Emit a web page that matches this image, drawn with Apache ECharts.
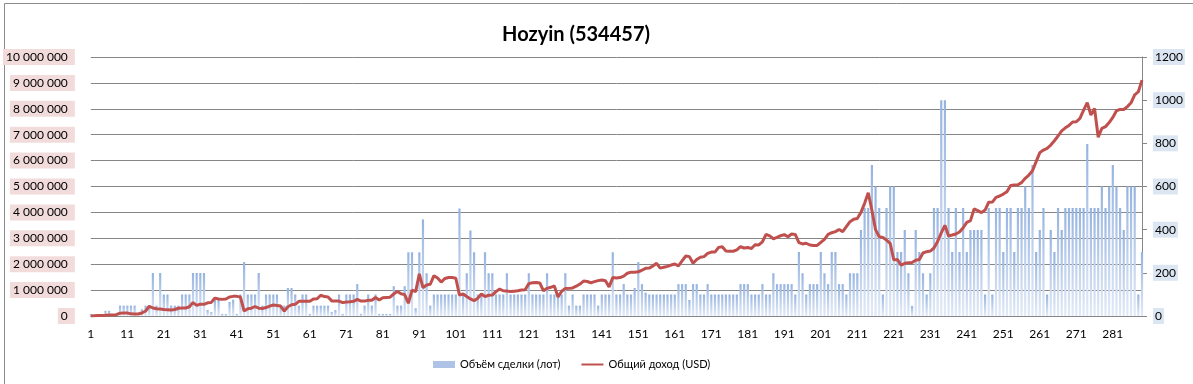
<!DOCTYPE html>
<html>
<head>
<meta charset="utf-8">
<script src="https://cdn.jsdelivr.net/npm/echarts@6/dist/echarts.min.js"></script>
<style>
html,body{margin:0;padding:0;background:#fff;}
#c{width:1193px;height:384px;}
</style>
</head>
<body>
<div id="c"></div>
<script>
const titleText = 'Hozyin (534457)';
const seriesNames = ['Объём сделки (лот)', 'Общий доход (USD)'];

const volume = [
  80000, 0, 0, 0, 200000, 200000, 0, 0, 400000, 400000,
  400000, 400000, 400000, 0, 260000, 400000, 400000, 1660000, 400000, 1660000,
  830000, 830000, 400000, 400000, 400000, 830000, 830000, 830000, 1660000, 1660000,
  1660000, 1660000, 230000, 150000, 620000, 620000, 80000, 80000, 540000, 630000,
  80000, 830000, 2080000, 830000, 830000, 830000, 1660000, 400000, 830000, 830000,
  830000, 830000, 400000, 400000, 1080000, 1080000, 830000, 400000, 830000, 830000,
  80000, 400000, 400000, 400000, 400000, 400000, 150000, 230000, 830000, 80000,
  830000, 830000, 830000, 1230000, 80000, 400000, 830000, 400000, 830000, 80000,
  80000, 80000, 80000, 1150000, 400000, 400000, 1150000, 2460000, 2460000, 300000,
  2460000, 3730000, 1650000, 400000, 830000, 830000, 830000, 830000, 830000, 830000,
  830000, 4150000, 830000, 1650000, 3300000, 2460000, 830000, 830000, 2460000, 1650000,
  1650000, 830000, 830000, 830000, 1650000, 830000, 830000, 830000, 830000, 830000,
  1650000, 830000, 830000, 830000, 830000, 1650000, 830000, 830000, 830000, 830000,
  1650000, 400000, 830000, 400000, 400000, 830000, 830000, 830000, 830000, 400000,
  830000, 830000, 830000, 2460000, 830000, 830000, 1230000, 830000, 830000, 1080000,
  2080000, 1230000, 900000, 830000, 830000, 830000, 830000, 830000, 830000, 830000,
  830000, 1230000, 1230000, 1230000, 620000, 1230000, 1230000, 830000, 830000, 1230000,
  830000, 830000, 830000, 830000, 830000, 830000, 830000, 830000, 1230000, 1230000,
  1230000, 830000, 830000, 830000, 1230000, 830000, 830000, 1650000, 1230000, 1230000,
  1230000, 1230000, 1230000, 830000, 2470000, 1650000, 830000, 1230000, 1230000, 1230000,
  2470000, 1650000, 1230000, 2470000, 2470000, 1230000, 1230000, 830000, 1650000, 1650000,
  1650000, 3320000, 4170000, 4170000, 5830000, 5000000, 4170000, 830000, 4170000, 5000000,
  5000000, 2470000, 2470000, 3320000, 1650000, 390000, 3320000, 2470000, 1650000, 830000,
  1650000, 4170000, 4170000, 8330000, 8330000, 4170000, 2470000, 4170000, 2470000, 4170000,
  2470000, 3320000, 3320000, 3320000, 3320000, 830000, 4170000, 830000, 4170000, 4170000,
  2470000, 4170000, 4170000, 2470000, 4170000, 4170000, 5000000, 4170000, 5830000, 2470000,
  3320000, 4170000, 830000, 3320000, 2470000, 4170000, 3320000, 4170000, 4170000, 4170000,
  4170000, 4170000, 4170000, 6640000, 4170000, 4170000, 4170000, 5000000, 4170000, 5000000,
  5830000, 5000000, 4170000, 3320000, 5000000, 5000000, 5000000, 830000, 2470000
];

const income = [
  0, 1, 2, 2, 3, 5, 5, 6, 13, 14,
  14, 10, 9, 9, 14, 23, 45, 37, 34, 32,
  30, 29, 28, 30, 36, 37, 37, 43, 62, 49,
  55, 54, 61, 63, 83, 79, 77, 79, 88, 91,
  91, 88, 23, 34, 36, 44, 36, 35, 39, 46,
  51, 49, 46, 23, 43, 52, 54, 68, 68, 68,
  68, 79, 80, 96, 90, 88, 70, 69, 69, 62,
  65, 66, 68, 77, 69, 69, 73, 73, 86, 74,
  85, 86, 87, 102, 114, 103, 99, 59, 120, 113,
  195, 131, 144, 147, 187, 176, 157, 174, 178, 178,
  175, 97, 102, 90, 79, 71, 82, 102, 90, 96,
  97, 113, 125, 117, 116, 113, 115, 117, 120, 122,
  150, 154, 155, 153, 117, 128, 133, 139, 88, 115,
  127, 128, 130, 138, 148, 162, 160, 154, 159, 164,
  167, 163, 135, 178, 176, 178, 185, 198, 203, 203,
  205, 212, 221, 222, 232, 244, 222, 226, 230, 236,
  241, 232, 255, 278, 275, 244, 262, 272, 275, 290,
  296, 296, 318, 321, 301, 300, 300, 306, 321, 315,
  317, 313, 330, 329, 344, 378, 371, 358, 364, 372,
  377, 367, 380, 378, 340, 334, 337, 329, 327, 327,
  341, 355, 378, 386, 391, 401, 391, 414, 437, 448,
  452, 480, 522, 571, 490, 400, 367, 364, 352, 337,
  260, 262, 235, 244, 247, 248, 258, 262, 292, 298,
  301, 315, 345, 385, 420, 371, 375, 380, 389, 409,
  434, 442, 496, 488, 479, 491, 527, 528, 550, 556,
  565, 576, 605, 607, 608, 618, 638, 653, 673, 715,
  757, 769, 777, 792, 812, 834, 858, 872, 883, 899,
  900, 916, 954, 988, 931, 962, 828, 869, 877, 896,
  920, 951, 957, 957, 970, 988, 1024, 1039, 1093
];

const categories = volume.map((_, i) => String(i + 1));

const leftTicks = { min: 0, max: 10000000, interval: 1000000 };
const rightTicks = { min: 0, max: 1200, interval: 200 };

const FONT = 'Lato, "Liberation Sans", sans-serif';
const chart = echarts.init(document.getElementById('c'), null, { renderer: 'canvas' });

function spaced(v) {
  return String(v).replace(/\B(?=(\d{3})+(?!\d))/g, ' ');
}

chart.setOption({
  animation: false,
  backgroundColor: '#ffffff',
  textStyle: { fontFamily: FONT },
  title: {
    text: titleText,
    left: 571, top: 20, textAlign: 'center',
    textStyle: { fontFamily: FONT, fontSize: 20, fontWeight: 'bold', color: '#000' }
  },
  graphic: [{
    type: 'rect', left: 2, top: 1, z: -1,
    shape: { x: 0, y: 0, width: 1189, height: 381 },
    style: { fill: 'none', stroke: '#8c8c8c', lineWidth: 1 }
  }],
  legend: {
    left: 428, top: 354,
    itemGap: 20,
    textStyle: { fontFamily: FONT, fontSize: 11, color: '#000' },
    data: [
      { name: seriesNames[0], icon: 'rect', itemStyle: { color: '#aec3e6' } },
      { name: seriesNames[1], itemStyle: { opacity: 0 } }
    ],
    itemWidth: 22, itemHeight: 7
  },
  grid: { left: 89, right: 51, top: 57, bottom: 68, containLabel: false },
  xAxis: {
    type: 'category',
    data: categories,
    boundaryGap: false,
    axisLine: { show: true, lineStyle: { color: '#868686', width: 1 } },
    axisTick: { show: false },
    axisLabel: { interval: 9, margin: 12, fontSize: 12, color: '#000', fontFamily: FONT },
    splitLine: { show: false }
  },
  yAxis: [{
    type: 'value',
    min: leftTicks.min, max: leftTicks.max, interval: leftTicks.interval,
    axisLine: { show: false },
    axisTick: { show: false },
    splitLine: { show: true, lineStyle: { color: '#868686', width: 1 } },
    axisLabel: {
      formatter: spaced, margin: 16, fontSize: 12, color: '#000', fontFamily: FONT,
      backgroundColor: '#f2dcdb', padding: [2, 7, 2, 3]
    }
  }, {
    type: 'value',
    min: rightTicks.min, max: rightTicks.max, interval: rightTicks.interval,
    position: 'right',
    axisLine: { show: true, lineStyle: { color: '#868686', width: 1 } },
    axisTick: { show: true, length: 5, inside: false, lineStyle: { color: '#868686' } },
    splitLine: { show: false },
    axisLabel: {
      formatter: function (v) { return String(v); },
      margin: 11, fontSize: 12, color: '#000', fontFamily: FONT,
      backgroundColor: '#dce6f2', padding: [2, 2, 2, 2]
    }
  }],
  series: [{
    name: seriesNames[0],
    type: 'bar',
    yAxisIndex: 0,
    data: volume,
    barWidth: 2.2,
    itemStyle: {
      color: new echarts.graphic.LinearGradient(0, 0, 0, 1, [
        { offset: 0, color: '#95b3e0' },
        { offset: 1, color: '#e2eaf7' }
      ])
    }
  }, {
    name: seriesNames[1],
    type: 'line',
    yAxisIndex: 1,
    data: income,
    symbol: 'none',
    showSymbol: false,
    lineStyle: { color: '#c0504d', width: 3 },
    itemStyle: { color: '#c0504d' },
    z: 5
  }]
});
</script>
</body>
</html>
